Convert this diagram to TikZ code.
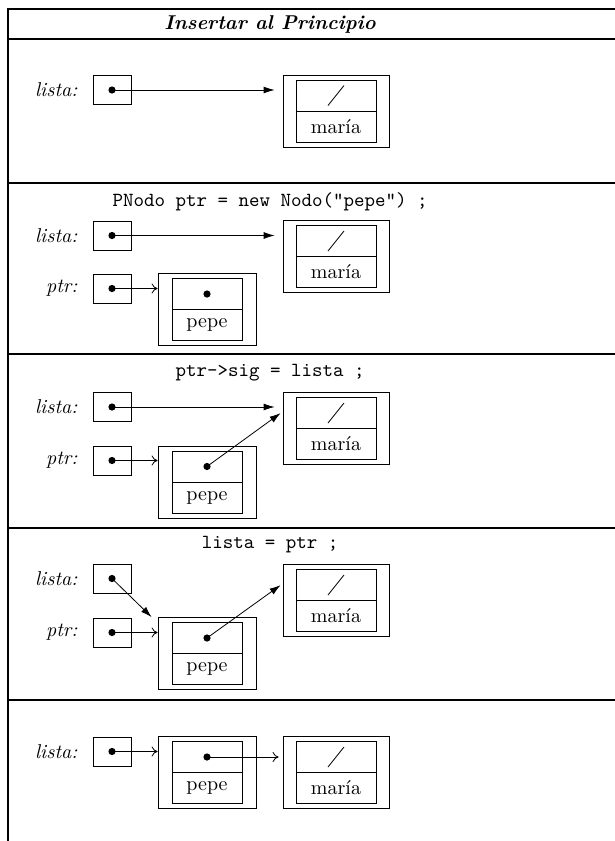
\documentclass[tikz,border=0pt]{standalone}
\usetikzlibrary{
  positioning,
  calc,
  arrows.meta,
}
\tikzset{
  ptrbox/.style={
    draw,
    minimum width=19pt,
    minimum height=14.5pt,
    inner sep=0pt,
  },
  nodebox/.style={
    draw,
    minimum height=36pt,
    inner sep=0pt,
  },
  cell/.style={
    draw,
    minimum height=15.5pt,
    inner sep=0pt,
    outer sep=0pt,
  },
  varname/.style={font=\itshape},
  code/.style={font=\ttfamily},
  title/.style={font=\bfseries\itshape},
  table/.style={line width=0.6pt},
  ptrarrow/.style={-{Latex[length=5.5pt,width=3.5pt]}},
  newarrow/.style={-{To[length=3pt,width=5pt]}},
}
% nodo de la lista: nombre, posicion, ancho exterior, ancho interior, dato
\newcommand\listnodo[5]{%
  \node[nodebox, minimum width=#3] (#1) at (#2) {};
  \node[cell, minimum width=#4, anchor=south] (#1-sig) at (#1.center) {};
  \node[cell, minimum width=#4, anchor=north] (#1-dato) at (#1.center) {#5};
}
\newcommand\nulo[1]{%
  \draw ($(#1-sig.center)+(-8,10)$) -- ($(#1-sig.center)+(8,-10)$);
}
\newcommand\punto[1]{\fill (#1) circle[radius=1.8pt];}

\begin{document}
\begin{tikzpicture}[x=0.5pt, y=-0.5pt]
  \useasboundingbox (0,0) rectangle (615,841);

  % tabla
  \draw[table] (615,9) -- (8,9) -- (8,841);
  \foreach \y in {39,183,354,528,700}
    \draw[table] (8,\y) -- (615,\y);
  \node[title] (titulo) at (270,24) {Insertar al Principio};

  % 1
  \node[ptrbox] (lista1) at (112,90) {};
  \node[varname, left=4pt of lista1] (lista1-l) {lista:};
  \listnodo{m1}{336,111}{53pt}{40pt}{mar\'ia}
  \nulo{m1}
  \punto{lista1.center}
  \draw[ptrarrow, shorten >=4pt] (lista1.center) -- (lista1.center -| m1.west);

  % 2
  \node[code] (code2) at (270,202) {PNodo ptr = new Nodo("pepe") ;};
  \node[ptrbox] (lista2) at (112,235.5) {};
  \node[varname, left=4pt of lista2] (lista2-l) {lista:};
  \node[ptrbox] (ptr2) at (112,288.5) {};
  \node[varname, left=4pt of ptr2] (ptr2-l) {ptr:};
  \listnodo{m2}{336,256.5}{53pt}{40pt}{mar\'ia}
  \nulo{m2}
  \listnodo{p2}{207,309.5}{49pt}{35pt}{pepe}
  \punto{lista2.center}
  \punto{ptr2.center}
  \punto{p2-sig.center}
  \draw[ptrarrow, shorten >=4pt] (lista2.center) -- (lista2.center -| m2.west);
  \draw[newarrow] (ptr2.center) -- (ptr2.center -| p2.west);

  % 3
  \node[code] (code3) at (270,373) {ptr->sig = lista ;};
  \node[ptrbox] (lista3) at (112,407) {};
  \node[varname, left=4pt of lista3] (lista3-l) {lista:};
  \node[ptrbox] (ptr3) at (112,460.5) {};
  \node[varname, left=4pt of ptr3] (ptr3-l) {ptr:};
  \listnodo{m3}{336,428.5}{53pt}{40pt}{mar\'ia}
  \nulo{m3}
  \listnodo{p3}{207,482}{49pt}{35pt}{pepe}
  \coordinate (m3-in) at ($(m3.north west)+(-2,21)$);
  \punto{lista3.center}
  \punto{ptr3.center}
  \punto{p3-sig.center}
  \draw[ptrarrow, shorten >=4pt] (lista3.center) -- (lista3.center -| m3.west);
  \draw[newarrow] (ptr3.center) -- (ptr3.center -| p3.west);
  \draw[ptrarrow] (p3-sig.center) -- (m3-in);

  % 4
  \node[code] (code4) at (270,545) {lista = ptr ;};
  \node[ptrbox] (lista4) at (112,578.5) {};
  \node[varname, left=4pt of lista4] (lista4-l) {lista:};
  \node[ptrbox] (ptr4) at (112,632.5) {};
  \node[varname, left=4pt of ptr4] (ptr4-l) {ptr:};
  \listnodo{m4}{336,600.5}{53pt}{40pt}{mar\'ia}
  \nulo{m4}
  \listnodo{p4}{207,653.5}{49pt}{35pt}{pepe}
  \coordinate (m4-in) at ($(m4.north west)+(-2,21)$);
  \coordinate (p4-in) at ($(p4.north west)+(-6,0)$);
  \punto{lista4.center}
  \punto{ptr4.center}
  \punto{p4-sig.center}
  \draw[ptrarrow] (lista4.center) -- (p4-in);
  \draw[newarrow] (ptr4.center) -- (ptr4.center -| p4.west);
  \draw[ptrarrow] (p4-sig.center) -- (m4-in);

  % 5
  \node[ptrbox] (lista5) at (112,751.5) {};
  \node[varname, left=4pt of lista5] (lista5-l) {lista:};
  \listnodo{p5}{207,772.5}{49pt}{35pt}{pepe}
  \listnodo{m5}{336,772.5}{53pt}{40pt}{mar\'ia}
  \nulo{m5}
  \punto{lista5.center}
  \punto{p5-sig.center}
  \draw[newarrow] (lista5.center) -- (lista5.center -| p5.west);
  \draw[newarrow, shorten >=2pt] (p5-sig.center) -- (p5-sig.center -| m5.west);
\end{tikzpicture}
\end{document}
